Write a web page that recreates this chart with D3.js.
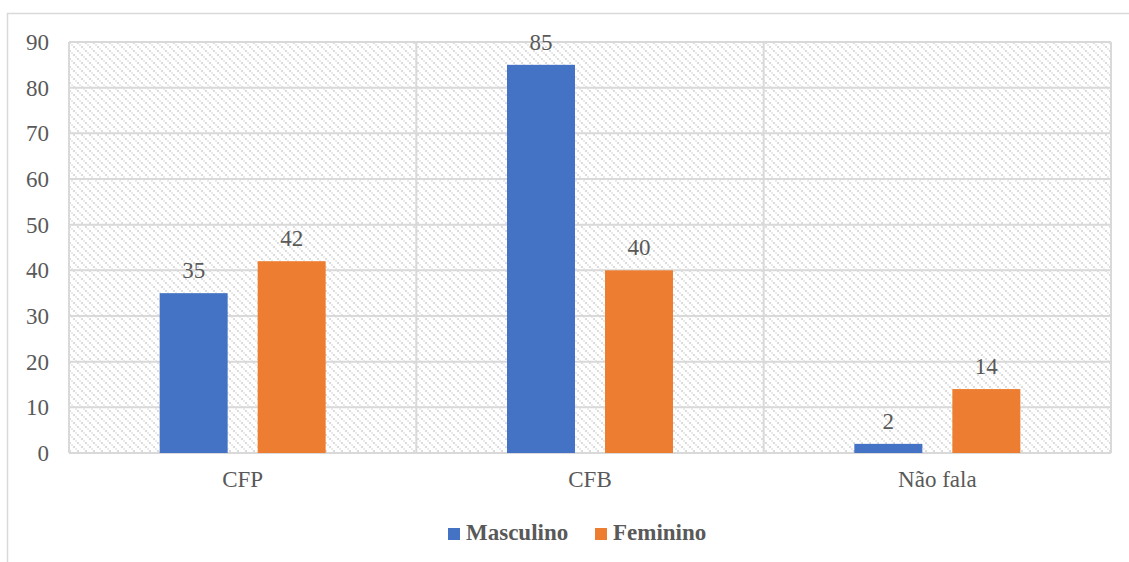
<!DOCTYPE html>
<head>
  <script src="https://d3js.org/d3.v7.min.js"></script>
  <meta charset='utf-8'>
  <style>
    body { margin: 0; background: #fff; }
    svg text { font-family: "Liberation Serif", "Times New Roman", serif !important; fill: #595959; }
  </style>
</head>
<body>
<div id="chart"></div>
<script>

// data
var categories = ["CFP", "CFB", "Não fala"];
var masculino = [35, 85, 2];
var feminino = [42, 40, 14];
var seriesNames = ["Masculino", "Feminino"];
var seriesColors = ["#4472C4", "#ED7D31"];
var yTicks = [0, 10, 20, 30, 40, 50, 60, 70, 80, 90];

var W = 1129, H = 562;
var margin = {top: 42, right: 18, bottom: 109, left: 69},
    width = W - margin.left - margin.right,
    height = H - margin.top - margin.bottom;

var serif = '"Liberation Serif", "Times New Roman", serif';

var svg = d3.select("#chart").append("svg")
    .attr("width", W)
    .attr("height", H);

// hatch pattern for the plot background: dashed downward diagonals
var pat = svg.append("defs").append("pattern")
    .attr("id", "hatch")
    .attr("patternUnits", "userSpaceOnUse")
    .attr("width", 8).attr("height", 8);
pat.selectAll("rect")
  .data([0, 1, 2, 3])
  .join("rect")
    .attr("x", k => k * 2).attr("y", k => k * 2)
    .attr("width", 2).attr("height", 2)
    .attr("fill", k => k % 2 ? "#ebebeb" : "#dcdcdc")
    .attr("shape-rendering", "crispEdges");

// outer chart border (cropped on right/bottom)
svg.append("rect")
    .attr("x", 7.5).attr("y", 13.5)
    .attr("width", W).attr("height", H)
    .attr("fill", "none")
    .attr("stroke", "#d9d9d9")
    .attr("stroke-width", 1.5);

var g = svg.append("g")
    .attr("transform", `translate(${margin.left},${margin.top})`);

var x0 = d3.scaleBand()
    .domain(categories)
    .range([0, width]);

var x1 = d3.scaleBand()
    .domain(seriesNames)
    .range([0, 166])
    .paddingInner(30 / 98);

var y = d3.scaleLinear()
    .domain([0, 90])
    .range([height, 0]);

g.append("rect")
    .attr("width", width).attr("height", height)
    .attr("fill", "url(#hatch)");

// horizontal gridlines
g.append("g")
  .selectAll("line")
  .data(yTicks)
  .join("line")
    .attr("x1", 0).attr("x2", width)
    .attr("y1", d => y(d)).attr("y2", d => y(d))
    .attr("stroke", "#d9d9d9")
    .attr("stroke-width", 2);

// vertical gridlines at category boundaries
g.append("g")
  .selectAll("line")
  .data(d3.range(categories.length + 1))
  .join("line")
    .attr("x1", i => i * x0.step()).attr("x2", i => i * x0.step())
    .attr("y1", 0).attr("y2", height)
    .attr("stroke", "#d9d9d9")
    .attr("stroke-width", 2);

// y axis labels
var yAxis = g.append("g")
    .call(d3.axisLeft(y).tickValues(yTicks).tickSize(0).tickPadding(20))
    .attr("font-family", serif);
yAxis.select(".domain").remove();
yAxis.selectAll("text")
    .style("font-size", "23px")
    .style("font-family", serif)
    .attr("fill", "#595959");

// x axis labels
var xAxis = g.append("g")
    .attr("transform", `translate(0,${height})`)
    .call(d3.axisBottom(x0).tickSize(0).tickPadding(18))
    .attr("font-family", serif);
xAxis.select(".domain").remove();
xAxis.selectAll("text")
    .style("font-size", "23px")
    .style("font-family", serif)
    .attr("fill", "#595959");

var rows = categories.map((c, i) => ({cat: c, values: [masculino[i], feminino[i]]}));
var offset = (x0.bandwidth() - 166) / 2;

var groups = g.selectAll(".cat")
  .data(rows)
  .join("g")
    .attr("class", "cat")
    .attr("transform", d => `translate(${x0(d.cat) + offset},0)`);

groups.selectAll("rect")
  .data(d => d.values.map((v, j) => ({name: seriesNames[j], value: v, color: seriesColors[j]})))
  .join("rect")
    .attr("x", d => x1(d.name))
    .attr("y", d => y(d.value))
    .attr("width", x1.bandwidth())
    .attr("height", d => height - y(d.value))
    .attr("fill", d => d.color);

groups.selectAll("text.lbl")
  .data(d => d.values.map((v, j) => ({name: seriesNames[j], value: v})))
  .join("text")
    .attr("class", "lbl")
    .attr("x", d => x1(d.name) + x1.bandwidth() / 2)
    .attr("y", d => y(d.value) - 15)
    .attr("text-anchor", "middle")
    .style("font-size", "23px")
    .style("font-family", serif)
    .text(d => d.value);

// legend
var legendPos = [448, 595];
var legend = svg.append("g");
seriesNames.forEach((name, i) => {
  legend.append("rect")
    .attr("x", legendPos[i]).attr("y", 528)
    .attr("width", 12).attr("height", 12)
    .attr("fill", seriesColors[i]);
  legend.append("text")
    .attr("x", legendPos[i] + 18).attr("y", 540)
    .style("font-size", "23px")
    .style("font-weight", "bold")
    .style("font-family", serif)
    .text(name);
});

</script>
</body>
